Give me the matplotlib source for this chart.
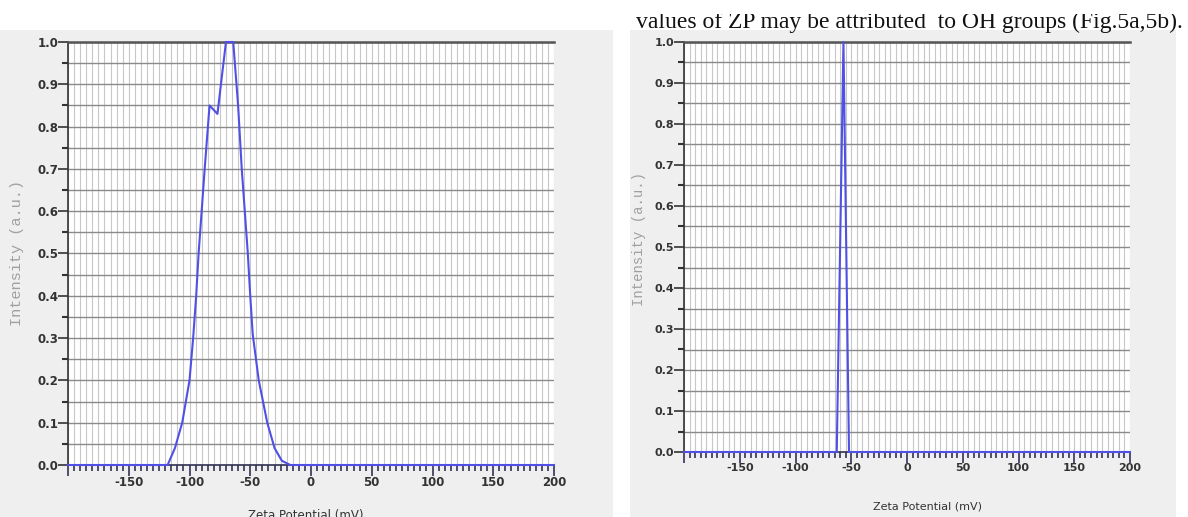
import numpy as np
import matplotlib.pyplot as plt
from matplotlib.patches import Rectangle
from matplotlib.ticker import MultipleLocator, FixedLocator

# sample a (left) - broad distribution
zeta_a = [-200, -118, -112, -106, -100, -97, -94.5, -92.5, -87.5, -83.5, -77, -70, -64,
          -60, -57, -52, -50, -48, -43, -36, -30, -24, -17, 200]
int_a = [0, 0, 0.04, 0.10, 0.20, 0.30, 0.40, 0.50, 0.70, 0.85, 0.83, 1.0, 1.0,
         0.85, 0.70, 0.50, 0.40, 0.31, 0.20, 0.10, 0.04, 0.01, 0, 0]

# sample b (right) - narrow spike
zeta_b = [-200, -63, -57, -52, 200]
int_b = [0, 0, 1.0, 0, 0]

xticks = [-200, -150, -100, -50, 0, 50, 100, 150, 200]
xticklabels = ["", "-150", "-100", "-50", "0", "50", "100", "150", "200"]
yticks = [0.0, 0.1, 0.2, 0.3, 0.4, 0.5, 0.6, 0.7, 0.8, 0.9, 1.0]

line_col = "#5050e6"
W, H = 1188, 517

fig = plt.figure(figsize=(W / 100, H / 100), dpi=100)
fig.patch.set_facecolor("white")

# grey panel backgrounds of the two instrument screenshots
fig.patches.append(Rectangle((0, 0), 613 / W, 487 / H, transform=fig.transFigure,
                             facecolor="#efefef", edgecolor="none", zorder=-5))
fig.patches.append(Rectangle((630 / W, 0), 546 / W, 487 / H, transform=fig.transFigure,
                             facecolor="#efefef", edgecolor="none", zorder=-5))


def style_axes(ax, fs):
    ax.set_facecolor("white")
    ax.set_xlim(-200, 200)
    ax.set_ylim(0, 1.0)
    for x in np.arange(-200, 201, 5):
        ax.axvline(x, color="#c8c8c8", lw=0.8, zorder=0)
    for y in np.arange(0, 1.001, 0.05):
        ax.axhline(y, color="#8a8a8a", lw=1.0, zorder=0)
    ax.xaxis.set_major_locator(FixedLocator(xticks))
    ax.set_xticklabels(xticklabels)
    ax.xaxis.set_minor_locator(MultipleLocator(5))
    ax.yaxis.set_major_locator(FixedLocator(yticks))
    ax.set_yticklabels(["%.1f" % v for v in yticks])
    ax.yaxis.set_minor_locator(MultipleLocator(0.05))
    ax.tick_params(axis="x", which="major", length=8, width=1.2, color="#333355",
                   labelsize=fs, pad=0, labelcolor="#333333")
    ax.tick_params(axis="x", which="minor", length=4, width=1.2, color="#333355")
    ax.tick_params(axis="y", which="major", length=7, width=1.2, color="#333333",
                   labelsize=fs, pad=0, labelcolor="#333333")
    ax.tick_params(axis="y", which="minor", length=4, width=1.5, color="#333333")
    for lab in ax.get_xticklabels() + ax.get_yticklabels():
        lab.set_fontweight("bold")
    ax.spines["right"].set_visible(False)
    ax.spines["top"].set_color("#555555")
    ax.spines["top"].set_linewidth(1.8)
    ax.spines["left"].set_color("#333333")
    ax.spines["left"].set_linewidth(1.2)
    ax.spines["bottom"].set_color("#333355")
    ax.spines["bottom"].set_linewidth(1.2)


ax1 = fig.add_axes([68 / W, 1 - 465 / H, 486 / W, 423 / H])
style_axes(ax1, 8.5)
ax1.plot(zeta_a, int_a, color=line_col, lw=1.5, zorder=3, clip_on=False)
ax1.set_xlabel("Zeta Potential (mV)", fontsize=8.5, color="#333333")
ax1.xaxis.set_label_coords(0.49, -0.105)
ax1.set_ylabel("Intensity (a.u.)", family="Liberation Mono", fontsize=11, color="#a0a0a0")
ax1.yaxis.set_label_coords(-0.09, 0.5)

ax2 = fig.add_axes([684 / W, 1 - 452 / H, 446 / W, 410 / H])
style_axes(ax2, 8)
ax2.plot(zeta_b, int_b, color=line_col, lw=1.5, zorder=3, clip_on=False)
ax2.set_xlabel("Zeta Potential (mV)", fontsize=8, color="#333333")
ax2.xaxis.set_label_coords(0.545, -0.12)
ax2.set_ylabel("Intensity (a.u.)", family="Liberation Mono", fontsize=10, color="#a0a0a0")
ax2.yaxis.set_label_coords(-0.085, 0.52)

# cropped line of body text above the right panel
fig.text(636 / W, 1 - 28 / H, "values of ZP may be attributed  to OH groups (Fig.5a,5b).",
         family="Liberation Serif", fontsize=17, color="#111111", ha="left",
         va="baseline", zorder=1)
fig.patches.append(Rectangle((0, 1 - 14 / H), 1, 14 / H, transform=fig.transFigure,
                             facecolor="white", edgecolor="none", zorder=5))

fig.savefig("out.png", dpi=100)
